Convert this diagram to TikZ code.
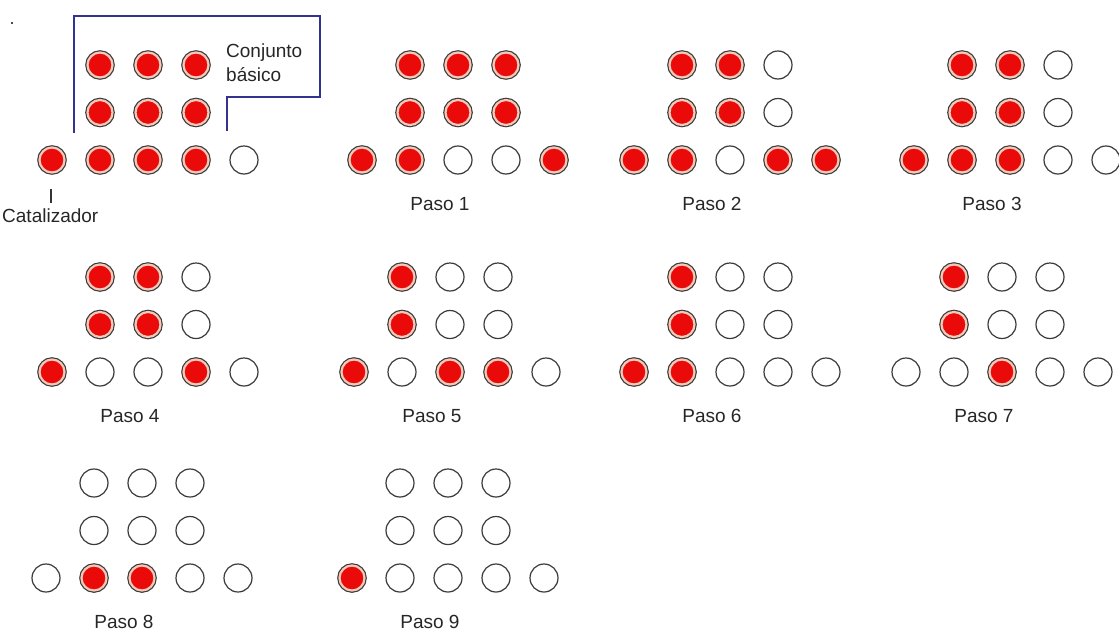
\documentclass[tikz,border=0pt]{standalone}
\usepackage{fontspec}
\setmainfont{Liberation Sans}
\usepackage{tikz}
\definecolor{bolared}{HTML}{EA0A0A}
\definecolor{ringpink}{HTML}{F4CBBB}
\definecolor{rim}{HTML}{3A3A3A}
\definecolor{bracketblue}{HTML}{33338F}

\begin{document}
\begin{tikzpicture}[
    x=1pt, y=-1pt,
    font=\fontsize{19}{24}\selectfont,
    bola0/.style={circle, minimum size=28pt, inner sep=0pt, draw=rim, line width=1.2pt, fill=white},
    bola1/.style={circle, minimum size=25pt, inner sep=0pt, fill=bolared, draw=ringpink, line width=2.2pt,
                  preaction={draw=rim, line width=4.6pt}},
    pasolabel/.style={text=black!85, inner sep=2pt},
    bracket/.style={draw=bracketblue, line width=1.5pt}
]
\useasboundingbox (0,0) rectangle (1119,632);

% Panels: number / x of first circle / y of bottom row / top row / middle row / bottom row
\foreach \p/\x/\y/\arr/\med/\aba in {
    0/52/160/{1,1,1}/{1,1,1}/{1,1,1,1,0},
    1/362/160/{1,1,1}/{1,1,1}/{1,1,0,0,1},
    2/634/160/{1,1,0}/{1,1,0}/{1,1,0,1,1},
    3/914/160/{1,1,0}/{1,1,0}/{1,1,1,0,0},
    4/52/372/{1,1,0}/{1,1,0}/{1,0,0,1,0},
    5/354/372/{1,0,0}/{1,0,0}/{1,0,1,1,0},
    6/634/372/{1,0,0}/{1,0,0}/{1,1,0,0,0},
    7/906/372/{1,0,0}/{1,0,0}/{0,0,1,0,0},
    8/46/578/{0,0,0}/{0,0,0}/{0,1,1,0,0},
    9/352/578/{0,0,0}/{0,0,0}/{1,0,0,0,0}} {
  \foreach \s [count=\i] in \arr
    \node[bola\s] (p\p-a\i) at (\x+\i*48, \y-95) {};
  \foreach \s [count=\i] in \med
    \node[bola\s] (p\p-m\i) at (\x+\i*48, \y-47.5) {};
  \foreach \s [count=\i] in \aba
    \node[bola\s] (p\p-b\i) at (\x+\i*48-48, \y) {};
  \ifnum\p>0
    \node[pasolabel] (lab\p) at (\x+78, \y+44) {Paso \p};
  \fi
}

% Catalizador
\coordinate (tickA) at (51,189);
\coordinate (tickB) at (51,203);
\draw[line width=1.2pt, black!80] (tickA) -- (tickB);
\node[pasolabel, anchor=west] (cat) at (0,216) {Catalizador};

% Conjunto basico bracket
\coordinate (brA) at (74,133);
\coordinate (brB) at (74,16);
\coordinate (brC) at (320,16);
\coordinate (brD) at (320,97);
\coordinate (brE) at (227,97);
\coordinate (brF) at (227,131);
\draw[bracket] (brA) -- (brB) -- (brC) -- (brD) -- (brE) -- (brF);
\node[pasolabel, anchor=west, align=left] (conj) at (224,63) {Conjunto\\básico};

% stray dot
\node[fill=black!70, inner sep=0pt, minimum size=2pt] (dot) at (12,23) {};

\end{tikzpicture}
\end{document}
